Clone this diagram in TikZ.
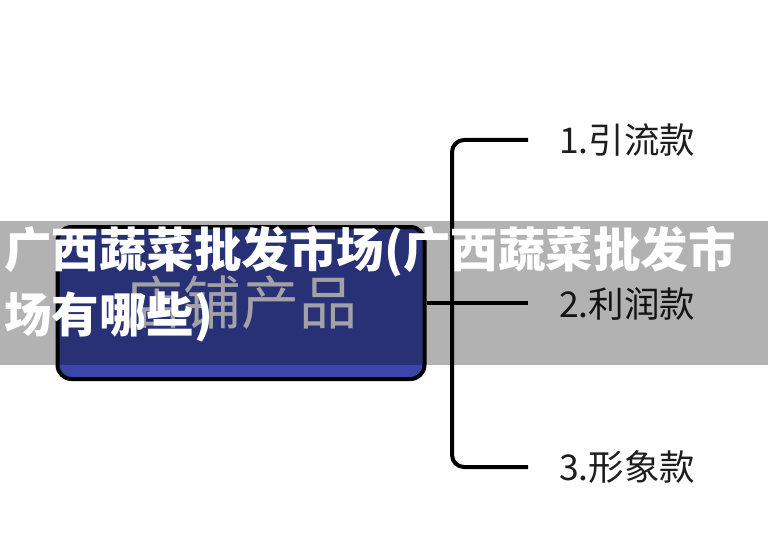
\documentclass[tikz,border=0pt]{standalone}
\usepackage{fontspec}
\newfontfamily\cjk{Noto Sans CJK SC}
\usepackage{tikz}
\definecolor{boxblue}{RGB}{58,70,170}
\definecolor{boxtext}{RGB}{232,232,240}
\definecolor{labeltext}{RGB}{30,30,30}
\tikzstyle{block} = [rectangle, draw=black, line width=4pt, fill=boxblue, rounded corners=14pt]
\tikzstyle{branch} = [draw=black, line width=4pt, rounded corners=12pt]
\tikzstyle{leaf} = [anchor=base west, inner sep=0pt, text=labeltext, font=\cjk\fontsize{35.5}{35.5}\selectfont]
\tikzstyle{title} = [anchor=base west, inner sep=0pt, text=white, font=\cjk\bfseries\fontsize{47.5}{47.5}\selectfont]

\begin{document}
\begin{tikzpicture}[x=1pt, y=-1pt]
\useasboundingbox[fill=white] (0,0) rectangle (768,556);

\node[block, minimum width=367pt, minimum height=152pt, text=boxtext,
  font=\cjk\fontsize{58}{58}\selectfont] (shop) at (241, 303) {店铺产品};

\node[leaf] (k1) at (559, 154) {1.引流款};
\node[leaf] (k2) at (559, 317) {2.利润款};
\node[leaf] (k3) at (559, 480) {3.形象款};

\coordinate (t1) at (528, 140);
\coordinate (t2) at (528, 303);
\coordinate (t3) at (528, 467);

\draw[branch] (t1) -- (452, 140) -- (452, 467) -- (t3);
\draw[branch] (shop.east) -- (t2);

% overlay band
\fill[black, opacity=0.3] (0, 221) rectangle (768, 365);
\node[title] (head1) at (4, 267) {广西蔬菜批发市场(广西蔬菜批发市};
\node[title] (head2) at (4, 332) {场有哪些)};

\end{tikzpicture}
\end{document}
